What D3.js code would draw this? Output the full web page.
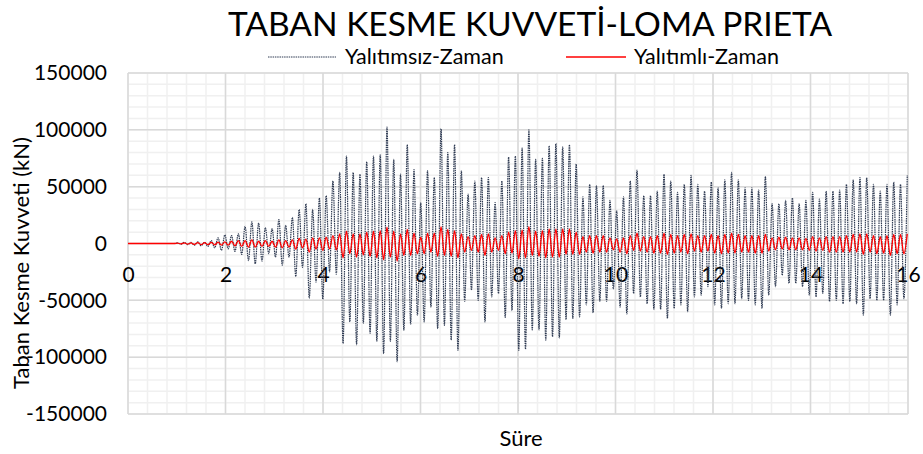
<!DOCTYPE html>
<html>
<head>
<meta charset="utf-8">
<script src="https://cdn.jsdelivr.net/npm/d3@7"></script>
<style>
  body { margin: 0; background: #fff; }
  svg { display: block; font-family: Lato, "Open Sans", sans-serif; }
</style>
</head>
<body>
<div id="chart"></div>
<script>
// peaks of the response (alternating max / min), unit: 1000 kN
const uninsulatedPeaks = [
  0.5, -0.5, 1, -1, 1, -1.5, 1.5, -2, 1, -2.6,
  2.6, -3.8, 5, -6, 7.6, -4.7, 7, -7, 8.5, -9.6,
  15, -15, 19, -18, 18, -15.5, 14, -9, 13, -12,
  21, -19, 16, -12, 23, -29, 30, -21, 35, -48,
  30, -34, 40, -49, 42, -25, 55, -27, 62.5, -88,
  77, -69, 62.5, -89, 61, -70, 72, -79, 77, -86,
  78, -97, 102.5, -86, 74, -104, 61, -76.5, 87, -71,
  65, -63, 36, -69, 64, -56, 58, -75, 101, -72,
  80, -85, 87, -94, 64, -51, 43.5, -41, 55, -50,
  58, -69, 58, -47, 36, -44, 55, -65, 76, -59,
  77, -94, 84, -93, 100, -76, 74, -76, 75, -85,
  86, -82, 88, -83, 85, -67, 87, -66, 70, -64.5,
  41, -54, 52, -61, 51, -51, 51, -51, 38, -40,
  29, -56, 41, -62, 55, -44, 64.5, -47, 42, -53,
  42, -58, 46, -58, 61, -66, 55, -57, 45, -54,
  52, -60, 60, -47, 52, -45.5, 46, -38, 54, -54,
  49, -57, 56, -53, 62.5, -53, 56, -48.5, 49, -50,
  49, -54, 47, -57, 59, -45.5, 35, -38, 35, -28,
  38, -35, 40, -35, 35, -38, 38, -45.5, 45, -47,
  39, -44, 46, -51, 46, -50, 47, -53, 52, -51,
  56, -53, 58, -63, 58, -48.5, 52, -50, 46, -50,
  52, -63, 54, -54, 52, -48.5, 60
];
const insulatedPeaks = [
  0.3, -0.3, 0.5, -0.5, 0.5, -0.8, 0.8, -1, 0.8, -1,
  1, -1.2, 1.2, -1.5, 1.5, -1.5, 2, -2, 2.6, -2.6,
  2.6, -3.2, 3.2, -3.2, 2, -2.6, 2.6, -2.6, 2, -3.2,
  3.2, -3.8, 2.6, -3.2, 3.2, -5, 4.4, -3.8, 3.8, -7.6,
  5, -5, 5, -6, 5.5, -4.7, 7, -5.5, 8.5, -12.6,
  10.8, -9, 8.5, -12, 8.5, -10, 10, -11.4, 10.8, -12.6,
  11.4, -14.3, 14.3, -12, 10.8, -15.5, 8.5, -10.5, 12.3, -10.5,
  9, -9, 5.5, -9, 9, -7.6, 9, -11.4, 14.9, -10.5,
  12.3, -11.4, 11.4, -12.6, 8.5, -7.6, 6, -6, 7, -7.6,
  7.9, -10.5, 8.5, -7.6, 5, -6, 7, -9, 10, -8.5,
  11.4, -13.4, 12, -12.6, 14.9, -10.5, 10.8, -11.4, 11.4, -12.6,
  12.8, -12, 12.8, -12, 12.8, -9.6, 12.8, -9.6, 10, -9.6,
  6, -7.6, 7, -8.5, 7, -7.6, 7, -7.6, 5, -5.5,
  4, -7.6, 5, -9, 7, -6, 9, -6.7, 6, -7.6,
  6, -8.5, 7, -8.5, 9, -9.6, 8, -8.5, 7, -7.6,
  8, -9, 8.5, -6.7, 7, -7.6, 7, -6.7, 8, -8.5,
  7, -9, 8, -8.5, 9, -8.5, 8, -7.6, 7, -7.6,
  7, -8.5, 7, -8.5, 8, -6.7, 5, -5.5, 5.5, -4.7,
  5.5, -5.5, 5, -5.5, 5, -5.5, 4.5, -6, 6, -6.7,
  5, -6, 6, -7.6, 6, -7.6, 6, -7.6, 7, -7.6,
  8, -7.6, 8.5, -9.6, 8.5, -7.6, 7, -9, 6, -8.5,
  7, -10.5, 8, -9, 8, -9, 8.5
];
// quiet part before the shaking starts (s)
const quietTimes = [0, 0.95];
const firstPeakTime = 1.016;   // s
const peakStep = 0.0693;       // s between a max and the next min

const xTicks = [0, 2, 4, 6, 8, 10, 12, 14, 16];
const yTicks = [-150000, -100000, -50000, 0, 50000, 100000, 150000];

const width = 923, height = 454;
const margin = { top: 73, left: 128 };

const svg = d3.select("#chart").append("svg")
  .attr("width", width)
  .attr("height", height);

const x = d3.scaleLinear().domain([0, 16]).range([margin.left, 908]);
const y = d3.scaleLinear().domain([-150000, 150000]).range([414, margin.top]);

// gridlines
const grid = svg.append("g");
grid.selectAll(".vminor")
  .data(d3.range(0, 16.001, 0.4))
  .join("line")
  .attr("x1", d => x(d)).attr("x2", d => x(d))
  .attr("y1", y(150000)).attr("y2", y(-150000))
  .attr("stroke", "#f0f0f0").attr("stroke-width", 1.5);
grid.selectAll(".hminor")
  .data(d3.range(-150000, 150001, 10000))
  .join("line")
  .attr("x1", x(0)).attr("x2", x(16))
  .attr("y1", d => y(d)).attr("y2", d => y(d))
  .attr("stroke", "#f0f0f0").attr("stroke-width", 1.5);
grid.selectAll(".vmajor")
  .data(xTicks)
  .join("line")
  .attr("x1", d => x(d)).attr("x2", d => x(d))
  .attr("y1", y(150000)).attr("y2", y(-150000))
  .attr("stroke", "#d9d9d9").attr("stroke-width", 1.5);
grid.selectAll(".hmajor")
  .data(yTicks)
  .join("line")
  .attr("x1", x(0)).attr("x2", x(16))
  .attr("y1", d => y(d)).attr("y2", d => y(d))
  .attr("stroke", "#d9d9d9").attr("stroke-width", 1.5);

// axes (labels only)
const yAxis = svg.append("g")
  .attr("transform", `translate(${x(0)},0)`)
  .call(d3.axisLeft(y).tickValues(yTicks).tickSize(0).tickPadding(21).tickFormat(d => String(d)));
const xAxis = svg.append("g")
  .attr("transform", `translate(0,${y(0)})`)
  .call(d3.axisBottom(x).tickValues(xTicks).tickSize(0).tickPadding(24));
[xAxis, yAxis].forEach(a => {
  a.select(".domain").remove();
  a.selectAll("text")
    .attr("font-family", "Lato, sans-serif")
    .attr("font-size", 21)
    .attr("fill", "#000");
});

// series
const toPoints = peaks => quietTimes.map(t => ({ t, v: 0 }))
  .concat(peaks.map((p, i) => ({ t: firstPeakTime + i * peakStep, v: p * 1000 })));

const line = d3.line()
  .x(d => x(d.t))
  .y(d => y(d.v))
  .curve(d3.curveMonotoneX);

svg.append("path")
  .datum(toPoints(uninsulatedPeaks))
  .attr("fill", "none")
  .attr("stroke", "#2e3a52")
  .attr("stroke-width", 1.2)
  .attr("stroke-dasharray", "1.5,0.8")
  .attr("d", line);

svg.append("path")
  .datum(toPoints(insulatedPeaks))
  .attr("fill", "none")
  .attr("stroke", "#ff0000")
  .attr("stroke-width", 1.3)
  .attr("d", line);

// title
svg.append("text")
  .attr("x", 530).attr("y", 36)
  .attr("text-anchor", "middle")
  .attr("font-size", 33.5)
  .text("TABAN KESME KUVVETİ-LOMA PRIETA");

// legend
const legend = svg.append("g").attr("font-size", 21.5);
legend.append("line")
  .attr("x1", 268).attr("x2", 336).attr("y1", 57).attr("y2", 57)
  .attr("stroke", "#2e3a52").attr("stroke-dasharray", "1.5,0.8");
legend.append("text").attr("x", 345).attr("y", 64).text("Yalıtımsız-Zaman");
legend.append("line")
  .attr("x1", 566).attr("x2", 626).attr("y1", 57).attr("y2", 57)
  .attr("stroke", "#ff0000").attr("stroke-width", 1.3);
legend.append("text").attr("x", 634).attr("y", 64).text("Yalıtımlı-Zaman");

// axis titles
svg.append("text")
  .attr("x", 521).attr("y", 446)
  .attr("text-anchor", "middle")
  .attr("font-size", 22)
  .text("Süre");
svg.append("text")
  .attr("transform", "translate(29,263) rotate(-90)")
  .attr("text-anchor", "middle")
  .attr("font-size", 22)
  .text("Taban Kesme Kuvveti (kN)");
</script>
</body>
</html>
